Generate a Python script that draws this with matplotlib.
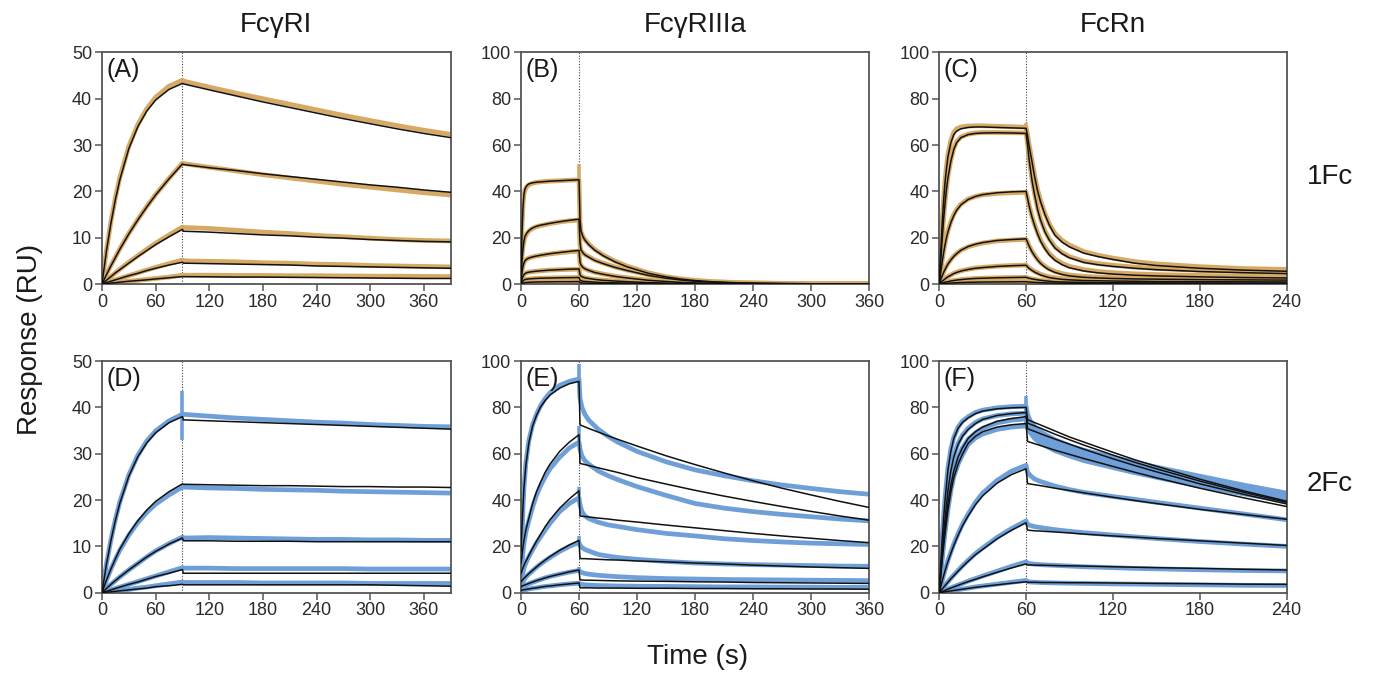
import matplotlib
matplotlib.use("Agg")
import matplotlib.pyplot as plt

plt.rcParams['font.family'] = ['Liberation Sans', 'DejaVu Sans']

ORANGE = '#D6A964'
BLUE = '#6E9FD8'

# ---------------- FcγRI (A: 1Fc, D: 2Fc) ----------------
t_AD = [0, 5, 10, 15, 20, 30, 40, 50, 60, 75, 90,
        91, 120, 150, 180, 210, 240, 270, 300, 330, 360, 390]

A_fit_1 = [0, 7.1, 13.1, 18.2, 22.5, 29.2, 33.9, 37.3, 39.7, 42.0, 43.3,
           43.2, 41.9, 40.6, 39.3, 38.1, 36.9, 35.7, 34.6, 33.5, 32.5, 31.6]
A_dat_1 = [0, 7.3, 13.4, 18.6, 23.0, 29.7, 34.4, 37.8, 40.3, 42.7, 44.0,
           43.8, 42.5, 41.2, 40.0, 38.8, 37.6, 36.4, 35.3, 34.2, 33.2, 32.3]
A_fit_2 = [0, 2.0, 3.9, 5.7, 7.5, 10.8, 13.8, 16.6, 19.2, 22.7, 25.9,
           25.8, 25.1, 24.5, 23.8, 23.2, 22.6, 22.0, 21.4, 20.9, 20.3, 19.8]
A_dat_2 = [0, 2.1, 4.0, 5.8, 7.6, 10.9, 13.9, 16.7, 19.3, 22.8, 26.1,
           26.0, 25.2, 24.4, 23.6, 22.9, 22.2, 21.5, 20.9, 20.3, 19.7, 19.2]
A_fit_3 = [0, 0.8, 1.6, 2.4, 3.1, 4.5, 5.9, 7.2, 8.5, 10.2, 11.8,
           11.4, 11.2, 10.9, 10.6, 10.4, 10.1, 9.9, 9.6, 9.4, 9.2, 9.1]
A_dat_3 = [0, 0.8, 1.6, 2.4, 3.2, 4.7, 6.1, 7.5, 8.8, 10.6, 12.3,
           12.2, 12.0, 11.6, 11.2, 10.9, 10.5, 10.2, 9.9, 9.6, 9.4, 9.3]
A_fit_4 = [0, 0.3, 0.6, 0.9, 1.2, 1.8, 2.3, 2.9, 3.4, 4.1, 4.7,
           4.5, 4.4, 4.3, 4.2, 4.1, 3.9, 3.8, 3.7, 3.6, 3.5, 3.4]
A_dat_4 = [0, 0.3, 0.6, 0.9, 1.2, 1.8, 2.4, 3.0, 3.6, 4.4, 5.2,
           5.0, 4.9, 4.8, 4.6, 4.5, 4.3, 4.2, 4.0, 3.9, 3.8, 3.7]
A_fit_5 = [0, 0.1, 0.2, 0.3, 0.4, 0.6, 0.75, 0.9, 1.1, 1.35, 1.6,
           1.6, 1.55, 1.5, 1.5, 1.45, 1.4, 1.35, 1.3, 1.25, 1.2, 1.2]
A_dat_5 = [0, 0.1, 0.2, 0.3, 0.4, 0.6, 0.8, 1.0, 1.2, 1.5, 1.9,
           1.9, 1.9, 1.85, 1.85, 1.8, 1.8, 1.75, 1.7, 1.7, 1.65, 1.6]

D_fit_1 = [0, 6.1, 11.2, 15.6, 19.3, 25.1, 29.3, 32.3, 34.5, 36.7, 38.0,
           37.3, 37.1, 36.9, 36.7, 36.5, 36.3, 36.1, 35.9, 35.7, 35.5, 35.3]
D_dat_1 = [0, 6.2, 11.4, 15.8, 19.6, 25.4, 29.6, 32.7, 34.9, 37.1, 38.5,
           38.5, 38.1, 37.7, 37.4, 37.1, 36.8, 36.6, 36.3, 36.1, 35.9, 35.8]
D_fit_2 = [0, 2.7, 5.1, 7.3, 9.4, 12.7, 15.5, 17.8, 19.7, 21.8, 23.5,
           23.4, 23.3, 23.2, 23.1, 23.1, 23.0, 22.9, 22.9, 22.8, 22.8, 22.7]
D_dat_2 = [0, 2.7, 5.1, 7.2, 9.2, 12.4, 15.1, 17.3, 19.1, 21.1, 22.8,
           22.8, 22.6, 22.5, 22.3, 22.2, 22.1, 21.9, 21.8, 21.7, 21.6, 21.5]
D_fit_3 = [0, 0.9, 1.8, 2.6, 3.4, 4.9, 6.3, 7.7, 8.9, 10.5, 11.8,
           11.2, 11.2, 11.1, 11.1, 11.1, 11.0, 11.0, 11.0, 11.0, 11.0, 11.0]
D_dat_3 = [0, 0.9, 1.8, 2.6, 3.4, 4.9, 6.3, 7.7, 9.0, 10.6, 12.0,
           11.8, 11.9, 11.8, 11.7, 11.6, 11.5, 11.5, 11.4, 11.4, 11.3, 11.3]
D_fit_4 = [0, 0.3, 0.6, 0.9, 1.2, 1.8, 2.3, 2.9, 3.5, 4.2, 5.0,
           4.2, 4.2, 4.2, 4.2, 4.2, 4.2, 4.2, 4.2, 4.2, 4.2, 4.2]
D_dat_4 = [0, 0.3, 0.6, 0.9, 1.2, 1.8, 2.4, 3.0, 3.6, 4.5, 5.4,
           5.3, 5.3, 5.2, 5.2, 5.2, 5.2, 5.2, 5.1, 5.1, 5.1, 5.1]
D_fit_5 = [0, 0.1, 0.2, 0.3, 0.4, 0.6, 0.8, 1.0, 1.3, 1.5, 1.8,
           1.7, 1.7, 1.7, 1.7, 1.7, 1.7, 1.7, 1.7, 1.6, 1.5, 1.4]
D_dat_5 = [0, 0.1, 0.2, 0.35, 0.5, 0.7, 1.0, 1.2, 1.5, 1.9, 2.3,
           2.2, 2.2, 2.2, 2.1, 2.1, 2.1, 2.1, 2.0, 2.0, 2.0, 2.0]

# ---------------- FcγRIIIa, 1Fc (B) ----------------
t_B = [0, 0.5, 1, 2, 3, 4, 6, 8, 11, 15, 20, 30, 40, 50, 60,
       61, 62, 64, 66, 70, 76, 85, 97, 110, 132, 150, 166, 180, 197, 220, 240, 270, 300, 360]

B_fit_1 = [0, 12, 22, 33, 38.5, 41, 42.5, 43.2, 43.6, 43.9, 44.1, 44.4, 44.6, 44.8, 45.0,
           28, 23, 20.5, 19, 17, 14.7, 12.2, 9.6, 7.4, 4.6, 3.1, 2.1, 1.5, 1.0, 0.6, 0.4, 0.2, 0.1, 0.0]
B_dat_1 = [0, 15, 25, 34, 38.5, 40.5, 42, 42.8, 43.4, 43.8, 44.1, 44.4, 44.6, 44.8, 45.0,
           27, 22.5, 20.5, 19.2, 17.3, 15.0, 12.5, 9.9, 7.7, 4.8, 3.2, 2.2, 1.6, 1.1, 0.7, 0.5, 0.3, 0.2, 0.1]
B_fit_2 = [0, 6, 10, 15, 18.5, 20.5, 22, 23, 24, 24.8, 25.4, 26.2, 26.9, 27.5, 28.0,
           18, 14.7, 13.5, 12.6, 11.6, 10.2, 8.8, 7.2, 5.8, 3.7, 2.5, 1.7, 1.2, 0.8, 0.5, 0.35, 0.2, 0.1, 0.0]
B_dat_2 = [0, 8, 12, 16, 18.5, 20.2, 21.8, 22.8, 23.8, 24.6, 25.2, 26.1, 26.8, 27.3, 27.6,
           17, 14.5, 13.5, 12.7, 11.8, 10.4, 9.0, 7.4, 6.0, 3.9, 2.7, 1.9, 1.3, 0.9, 0.6, 0.4, 0.25, 0.15, 0.05]
B_fit_3 = [0, 3, 5, 7.5, 9, 10, 10.8, 11.2, 11.6, 12.0, 12.4, 13.1, 13.6, 14.1, 14.5,
           9.5, 8.2, 7.2, 6.6, 5.9, 5.0, 4.2, 3.3, 2.6, 1.6, 1.1, 0.7, 0.5, 0.3, 0.2, 0.1, 0.05, 0, 0]
B_dat_3 = [0, 4, 6, 8, 9.2, 10, 10.8, 11.2, 11.6, 12.0, 12.4, 13.0, 13.5, 13.9, 14.2,
           9, 8.0, 7.2, 6.6, 5.9, 5.1, 4.3, 3.4, 2.7, 1.7, 1.2, 0.8, 0.55, 0.35, 0.2, 0.15, 0.1, 0.05, 0]
B_fit_4 = [0, 1.2, 2, 3.3, 4, 4.5, 4.9, 5.1, 5.3, 5.5, 5.7, 6.0, 6.2, 6.4, 6.5,
           4, 3.4, 3.0, 2.7, 2.4, 2.0, 1.6, 1.3, 1.0, 0.6, 0.4, 0.25, 0.15, 0.1, 0.05, 0, 0, 0, 0]
B_dat_4 = [0, 1.5, 2.3, 3.4, 4, 4.5, 4.9, 5.1, 5.3, 5.5, 5.7, 6.0, 6.2, 6.3, 6.4,
           3.8, 3.3, 3.0, 2.7, 2.4, 2.0, 1.7, 1.3, 1.0, 0.6, 0.4, 0.3, 0.2, 0.1, 0.05, 0, 0, 0, 0]
B_fit_5 = [0, 0.4, 0.8, 1.3, 1.7, 1.9, 2.1, 2.2, 2.3, 2.4, 2.5, 2.6, 2.7, 2.75, 2.8,
           1.7, 1.4, 1.2, 1.1, 1.0, 0.8, 0.6, 0.5, 0.4, 0.25, 0.15, 0.1, 0.05, 0, 0, 0, 0, 0, 0]
B_dat_5 = [0, 0.5, 0.9, 1.4, 1.7, 1.9, 2.1, 2.2, 2.3, 2.4, 2.5, 2.6, 2.7, 2.75, 2.8,
           1.6, 1.4, 1.2, 1.1, 1.0, 0.8, 0.6, 0.5, 0.4, 0.25, 0.15, 0.1, 0.05, 0, 0, 0, 0, 0, 0]
B_fit_6 = [0, 0.1, 0.2, 0.4, 0.5, 0.6, 0.7, 0.75, 0.8, 0.85, 0.9, 0.95, 1.0, 1.0, 1.05,
           0.6, 0.5, 0.45, 0.4, 0.35, 0.3, 0.25, 0.2, 0.15, 0.1, 0.05, 0, 0, 0, 0, 0, 0, 0, 0]
B_dat_6 = [0, 0.1, 0.2, 0.4, 0.5, 0.6, 0.7, 0.75, 0.8, 0.85, 0.9, 0.95, 1.0, 1.0, 1.05,
           0.6, 0.5, 0.45, 0.4, 0.35, 0.3, 0.25, 0.2, 0.15, 0.1, 0.05, 0, 0, 0, 0, 0, 0, 0, 0]

# ---------------- FcRn, 1Fc (C) ----------------
t_C = [0, 1, 2, 3, 4, 5, 6, 8, 10, 12, 15, 20, 25, 30, 40, 50, 60,
       61, 62, 64, 66, 68, 70, 73, 76, 80, 85, 90, 100, 110, 120, 135, 150, 180, 210, 240]

C_fit_1 = [0, 14, 26, 36, 44, 50, 55, 61, 64.5, 66, 67, 67.6, 67.8, 67.8, 67.6, 67.4, 67.2,
           64, 60, 53, 46, 40, 35.5, 30, 25.5, 21, 18, 16, 13.3, 11.8, 10.6, 9.0, 8.0, 6.8, 6.0, 5.5]
C_dat_1 = [0, 15, 27, 37, 45, 51, 56, 62, 65.5, 67, 67.8, 68.2, 68.3, 68.3, 68.1, 67.9, 67.7,
           64.5, 60.5, 53.5, 46.5, 40.5, 36, 30.5, 26, 21.8, 18.8, 16.8, 14, 12.4, 11.2, 9.7, 8.7, 7.5, 6.7, 6.3]
C_fit_2 = [0, 10, 19, 28, 35, 41, 46, 53, 58, 61, 63.2, 64.5, 65, 65.2, 65.3, 65.2, 65,
           60, 54, 45, 38, 32, 27.5, 22.5, 19, 15.5, 13, 11.3, 9.3, 8.3, 7.6, 6.8, 6.2, 5.4, 4.9, 4.5]
C_dat_2 = [0, 10.5, 19.5, 28.5, 35.5, 41.5, 46.5, 53.5, 58.5, 61.5, 63.5, 64.7, 65.2, 65.4, 65.4, 65.3, 65.2,
           60.5, 54.5, 45.5, 38.5, 32.5, 28, 23, 19.5, 16, 13.5, 11.8, 9.8, 8.8, 8.1, 7.3, 6.7, 5.9, 5.4, 5.0]
C_fit_3 = [0, 5, 9.5, 13.5, 17, 20, 22.5, 26.5, 29.5, 31.8, 34.2, 36.5, 37.8, 38.6, 39.4, 39.8, 40,
           37, 34, 29, 25, 21.5, 18.5, 15.2, 12.6, 10.2, 8.3, 7.0, 5.6, 4.8, 4.3, 3.8, 3.5, 3.1, 2.8, 2.6]
C_dat_3 = [0, 5.5, 10, 14, 17.5, 20.5, 23, 27, 30, 32.2, 34.5, 36.7, 37.8, 38.5, 39.1, 39.4, 39.6,
           37, 34.2, 29.3, 25.4, 22, 19, 15.8, 13.2, 10.8, 8.9, 7.6, 6.2, 5.4, 4.9, 4.4, 4.1, 3.7, 3.4, 3.2]
C_fit_4 = [0, 1.8, 3.5, 5, 6.3, 7.5, 8.6, 10.4, 11.9, 13.1, 14.6, 16.2, 17.2, 17.9, 18.8, 19.2, 19.5,
           18, 16.5, 14, 12, 10.3, 8.9, 7.3, 6.1, 5.0, 4.1, 3.5, 2.9, 2.6, 2.4, 2.2, 2.1, 1.9, 1.8, 1.7]
C_dat_4 = [0, 2.0, 3.7, 5.2, 6.5, 7.7, 8.8, 10.6, 12.0, 13.2, 14.6, 16.1, 17.0, 17.7, 18.6, 19.0, 19.3,
           18, 16.6, 14.2, 12.3, 10.6, 9.2, 7.7, 6.5, 5.4, 4.5, 3.9, 3.3, 3.0, 2.8, 2.6, 2.5, 2.3, 2.2, 2.1]
C_fit_5 = [0, 0.6, 1.2, 1.7, 2.2, 2.7, 3.1, 3.8, 4.5, 5.0, 5.6, 6.3, 6.8, 7.1, 7.6, 7.9, 8.1,
           7.4, 6.8, 5.9, 5.1, 4.5, 3.9, 3.3, 2.8, 2.4, 2.0, 1.8, 1.5, 1.4, 1.3, 1.2, 1.1, 1.0, 0.95, 0.9]
C_dat_5 = [0, 0.7, 1.3, 1.8, 2.3, 2.8, 3.2, 3.9, 4.6, 5.1, 5.7, 6.4, 6.9, 7.2, 7.7, 8.0, 8.2,
           7.6, 7.0, 6.1, 5.4, 4.8, 4.2, 3.6, 3.1, 2.7, 2.3, 2.1, 1.8, 1.7, 1.6, 1.5, 1.4, 1.3, 1.25, 1.2]
C_fit_6 = [0, 0.2, 0.4, 0.6, 0.8, 0.9, 1.0, 1.3, 1.5, 1.7, 1.9, 2.2, 2.4, 2.5, 2.7, 2.8, 2.9,
           2.7, 2.5, 2.2, 2.0, 1.8, 1.6, 1.4, 1.2, 1.0, 0.9, 0.8, 0.7, 0.6, 0.55, 0.5, 0.5, 0.45, 0.4, 0.4]
C_dat_6 = [0, 0.2, 0.4, 0.6, 0.8, 0.9, 1.0, 1.3, 1.5, 1.7, 1.9, 2.2, 2.4, 2.5, 2.7, 2.8, 2.9,
           2.7, 2.5, 2.2, 2.0, 1.8, 1.6, 1.4, 1.2, 1.0, 0.9, 0.8, 0.7, 0.6, 0.55, 0.5, 0.5, 0.45, 0.4, 0.4]
C_fit_7 = [0, 0.05, 0.1, 0.15, 0.2, 0.25, 0.3, 0.4, 0.5, 0.55, 0.65, 0.75, 0.8, 0.85, 0.9, 0.95, 1.0,
           0.9, 0.85, 0.8, 0.7, 0.65, 0.6, 0.5, 0.45, 0.4, 0.35, 0.3, 0.25, 0.2, 0.2, 0.2, 0.15, 0.15, 0.1, 0.1]
C_dat_7 = C_fit_7

# ---------------- FcγRIIIa, 2Fc (E) ----------------
t_E = [0, 1, 2, 3, 5, 8, 12, 16, 20, 25, 30, 40, 50, 60,
       61, 63, 66, 70, 80, 90, 100, 120, 150, 180, 210, 240, 270, 300, 330, 360]

E_fit_1 = [18, 28, 37, 45, 55, 64.5, 72, 76.5, 80, 83, 85.3, 88.3, 90.2, 91.2,
           72.5, 72.1, 71.6, 70.9, 69.3, 67.7, 66.2, 63.3, 59.1, 55.3, 51.7, 48.3, 45.1, 42.2, 39.4, 36.8]
E_dat_1 = [0, 22, 36, 45, 56, 65.5, 72.5, 77, 80.5, 83.8, 86.3, 89.5, 91.2, 92.3,
           84, 80, 77, 74.5, 70.5, 67.5, 65, 61, 56.5, 53, 50.5, 48.3, 46.5, 45, 43.6, 42.5]
E_fit_2 = [12.7, 16, 19.5, 22.5, 27, 32, 38.5, 43.5, 47.5, 52, 55.5, 61, 65, 68.2,
           55.8, 55.6, 55.3, 54.9, 53.9, 52.9, 51.9, 49.7, 46.9, 44.2, 41.7, 39.4, 37.2, 35.1, 33.1, 31.3]
E_dat_2 = [0, 12, 17.5, 21, 26, 31, 37, 42, 46, 50, 53.5, 58.5, 62.5, 65,
           62, 59, 57, 55.5, 52.5, 50.5, 48.8, 45.8, 42, 38.5, 36.5, 35, 33.8, 32.8, 31.8, 31]
E_fit_3 = [8.3, 9.5, 10.7, 11.8, 13.5, 16, 19.2, 22.2, 25, 28.5, 31.5, 36.5, 40.5, 44,
           33.1, 33.0, 32.9, 32.7, 32.2, 31.8, 31.3, 30.5, 29.2, 28.0, 26.8, 25.6, 24.5, 23.5, 22.5, 21.6]
E_dat_3 = [0, 6, 8.5, 10.5, 12.8, 15.5, 18.5, 21.5, 24, 27, 30, 35, 38.5, 41,
           38, 35, 33.2, 32, 30.4, 29.3, 28.6, 27.2, 25.6, 24.5, 23.3, 22.5, 21.9, 21.4, 21.1, 20.8]
E_fit_4 = [4.7, 5.2, 5.7, 6.2, 7.0, 8.2, 9.7, 11.1, 12.5, 14.1, 15.6, 18.3, 20.6, 22.6,
           14.8, 14.7, 14.7, 14.6, 14.4, 14.2, 14.1, 13.7, 13.3, 12.8, 12.4, 11.9, 11.5, 11.1, 10.8, 10.5]
E_dat_4 = [0, 3, 4.5, 5.5, 6.7, 8, 9.5, 11, 12.3, 13.8, 15.2, 17.8, 20, 21.7,
           20.5, 19.5, 18.7, 18.0, 16.5, 15.8, 15.2, 14.4, 13.5, 12.8, 12.4, 12.1, 11.9, 11.7, 11.5, 11.4]
E_fit_5 = [2.6, 2.8, 3.0, 3.2, 3.5, 4.0, 4.6, 5.2, 5.7, 6.4, 7.0, 8.0, 9.0, 9.8,
           5.5, 5.5, 5.4, 5.4, 5.3, 5.2, 5.1, 5.0, 4.9, 4.7, 4.6, 4.4, 4.3, 4.2, 4.1, 4.0]
E_dat_5 = [0, 1.5, 2.2, 2.7, 3.2, 3.8, 4.5, 5.1, 5.7, 6.4, 7.0, 8.0, 8.9, 9.6,
           9.2, 8.7, 8.3, 8.0, 7.5, 7.2, 6.9, 6.5, 6.1, 5.9, 5.7, 5.6, 5.5, 5.4, 5.3, 5.2]
E_fit_6 = [1.0, 1.1, 1.2, 1.3, 1.4, 1.6, 1.9, 2.1, 2.4, 2.7, 2.9, 3.4, 3.8, 4.2,
           2.1, 2.1, 2.1, 2.1, 2.0, 2.0, 2.0, 1.9, 1.9, 1.8, 1.8, 1.7, 1.7, 1.6, 1.6, 1.5]
E_dat_6 = [0, 0.6, 0.9, 1.1, 1.3, 1.6, 1.9, 2.1, 2.4, 2.7, 2.9, 3.4, 3.8, 4.1,
           3.8, 3.6, 3.4, 3.3, 3.1, 3.0, 2.9, 2.8, 2.7, 2.6, 2.5, 2.5, 2.4, 2.4, 2.3, 2.3]

# ---------------- FcRn, 2Fc (F) ----------------
t_F = [0, 1, 2, 3, 4, 6, 8, 10, 13, 16, 20, 25, 30, 40, 50, 60,
       61, 63, 66, 70, 80, 90, 100, 120, 135, 150, 180, 210, 240]

F_fit_1 = [0, 12, 23, 32, 40, 53, 61, 66.5, 71, 73.5, 75.5, 77.3, 78.4, 79.4, 79.8, 80,
           74.7, 74.2, 73.4, 72.4, 69.8, 67.2, 65.0, 60.6, 57.4, 54.6, 49.0, 44.0, 39.5]
F_dat_1 = [0, 13, 24, 33, 41, 54, 62, 67, 71.5, 74, 76, 77.8, 78.8, 79.8, 80.3, 80.5,
           77, 74, 71.5, 69.5, 66, 63.5, 61.5, 58.5, 56.3, 54.2, 50.3, 46.5, 43]
F_fit_2 = [0, 9, 17.5, 25, 32, 44, 52.5, 58.5, 64, 67.5, 70.5, 73, 74.8, 76.5, 77.3, 77.8,
           73.2, 72.7, 72.0, 71.0, 68.4, 66.0, 63.7, 59.4, 56.3, 53.5, 48.2, 43.4, 39.0]
F_dat_2 = [0, 10, 18.5, 26, 33, 45, 53.5, 59, 64.5, 68, 71, 73.5, 75, 76.5, 77.2, 77.5,
           75, 72.5, 70, 68, 64.5, 62, 60, 57, 54.8, 52.7, 48.7, 45.2, 42]
F_fit_3 = [0, 8, 15.5, 22, 28, 38.5, 46.5, 52.5, 58.5, 62.5, 66.6, 69.5, 71.5, 74, 75.2, 76,
           70.8, 70.3, 69.6, 68.6, 66.3, 64.1, 61.9, 57.8, 54.9, 52.2, 47.0, 42.5, 38.3]
F_dat_3 = [0, 8.5, 16, 22.5, 28.5, 39, 47, 53, 58.5, 62.5, 66.3, 69, 71, 73.3, 74.5, 75,
           73, 71, 68.5, 66.5, 63, 60.5, 58.5, 55.5, 53.3, 51.2, 47.3, 43.8, 40.7]
F_fit_4 = [0, 7, 14, 20, 25.5, 35.5, 43.5, 49.5, 55.5, 59.8, 64.5, 67.5, 69.5, 71.5, 72.5, 73,
           65.3, 64.9, 64.3, 63.5, 61.5, 59.7, 57.9, 54.5, 52.0, 49.6, 45.1, 41.0, 37.2]
F_dat_4 = [0, 7.5, 14.5, 20.5, 26, 36, 44, 50, 55.5, 59.5, 64, 66.8, 68.5, 70.5, 71.5, 72,
           71, 69, 66.5, 64.5, 61.3, 59, 57, 54, 51.8, 49.8, 46, 42.7, 39.5]
F_fit_5 = [0, 2.5, 5, 7.3, 9.5, 13.5, 17, 20.3, 24.8, 28.8, 33.2, 38, 41.8, 47.3, 51, 53.5,
           47.1, 46.9, 46.6, 46.2, 45.1, 44.1, 43.1, 41.2, 39.8, 38.5, 36.0, 33.8, 31.7]
F_dat_5 = [0, 2.5, 5, 7.5, 9.8, 14, 17.5, 21, 25.5, 29.5, 34, 39, 43, 48.5, 52.5, 55,
           52, 50.5, 49, 48, 46, 44.5, 43.3, 41.5, 40.3, 39, 36.5, 34, 31.5]
F_fit_6 = [0, 0.78, 1.55, 2.3, 3.1, 4.5, 6.0, 7.3, 9.3, 11.2, 13.6, 16.4, 18.7, 23.3, 27.0, 30.2,
           27.0, 26.9, 26.7, 26.6, 26.2, 25.8, 25.3, 24.5, 24.0, 23.4, 22.4, 21.4, 20.4]
F_dat_6 = [0, 0.8, 1.6, 2.4, 3.2, 4.7, 6.2, 7.6, 9.6, 11.6, 14, 16.9, 19.3, 23.9, 27.7, 31,
           29.5, 29, 28.5, 28.1, 27.2, 26.5, 25.9, 24.9, 24.1, 23.4, 22.1, 21, 20]
F_fit_7 = [0, 0.26, 0.51, 0.77, 1.02, 1.52, 2.0, 2.48, 3.2, 3.9, 4.8, 5.8, 6.85, 8.8, 10.7, 12.4,
           12.0, 12.0, 11.9, 11.9, 11.7, 11.6, 11.5, 11.2, 11.0, 10.8, 10.5, 10.1, 9.8]
F_dat_7 = [0, 0.3, 0.55, 0.8, 1.1, 1.6, 2.1, 2.6, 3.3, 4.0, 5.0, 6.1, 7.2, 9.3, 11.4, 13.3,
           12.8, 12.5, 12.3, 12.1, 11.8, 11.5, 11.2, 10.8, 10.5, 10.3, 9.9, 9.6, 9.4]
F_fit_8 = [0, 0.1, 0.2, 0.3, 0.4, 0.58, 0.77, 0.95, 1.23, 1.5, 1.85, 2.3, 2.7, 3.4, 4.1, 4.7,
           4.5, 4.5, 4.5, 4.4, 4.4, 4.3, 4.3, 4.2, 4.1, 4.0, 3.9, 3.7, 3.6]
F_dat_8 = [0, 0.1, 0.2, 0.3, 0.4, 0.6, 0.8, 1.0, 1.3, 1.6, 2.0, 2.5, 2.9, 3.7, 4.5, 5.3,
           4.8, 4.6, 4.5, 4.4, 4.2, 4.1, 4.0, 3.8, 3.7, 3.6, 3.4, 3.2, 3.1]

# Injection-end artefacts in the sensorgrams: (time, low, high)
B_spikes = [(60, 44, 52)]
C_spikes = [(60, 66, 69.5)]
D_spikes = [(90, 33, 43.5)]
E_spikes = [(60, 88, 98.5), (60, 64, 72), (60, 40, 45.5), (60, 21, 24.5), (60, 9.5, 11)]
F_spikes = [(60, 72, 85)]

col_titles = ['FcγRI', 'FcγRIIIa', 'FcRn']
row_labels = ['1Fc', '2Fc']

panels = [
    dict(label='(A)', t=t_AD, dat=[A_dat_1, A_dat_2, A_dat_3, A_dat_4, A_dat_5],
         fit=[A_fit_1, A_fit_2, A_fit_3, A_fit_4, A_fit_5], color=ORANGE, spikes=[],
         t_end=90, xlim=390, xticks=range(0, 361, 60), ymax=50, ystep=10),
    dict(label='(B)', t=t_B, dat=[B_dat_1, B_dat_2, B_dat_3, B_dat_4, B_dat_5, B_dat_6],
         fit=[B_fit_1, B_fit_2, B_fit_3, B_fit_4, B_fit_5, B_fit_6], color=ORANGE, spikes=B_spikes,
         t_end=60, xlim=360, xticks=range(0, 361, 60), ymax=100, ystep=20),
    dict(label='(C)', t=t_C, dat=[C_dat_1, C_dat_2, C_dat_3, C_dat_4, C_dat_5, C_dat_6, C_dat_7],
         fit=[C_fit_1, C_fit_2, C_fit_3, C_fit_4, C_fit_5, C_fit_6, C_fit_7], color=ORANGE, spikes=C_spikes,
         t_end=60, xlim=240, xticks=range(0, 241, 60), ymax=100, ystep=20),
    dict(label='(D)', t=t_AD, dat=[D_dat_1, D_dat_2, D_dat_3, D_dat_4, D_dat_5],
         fit=[D_fit_1, D_fit_2, D_fit_3, D_fit_4, D_fit_5], color=BLUE, spikes=D_spikes,
         t_end=90, xlim=390, xticks=range(0, 361, 60), ymax=50, ystep=10),
    dict(label='(E)', t=t_E, dat=[E_dat_1, E_dat_2, E_dat_3, E_dat_4, E_dat_5, E_dat_6],
         fit=[E_fit_1, E_fit_2, E_fit_3, E_fit_4, E_fit_5, E_fit_6], color=BLUE, spikes=E_spikes,
         t_end=60, xlim=360, xticks=range(0, 361, 60), ymax=100, ystep=20),
    dict(label='(F)', t=t_F, dat=[F_dat_1, F_dat_2, F_dat_3, F_dat_4, F_dat_5, F_dat_6, F_dat_7, F_dat_8],
         fit=[F_fit_1, F_fit_2, F_fit_3, F_fit_4, F_fit_5, F_fit_6, F_fit_7, F_fit_8], color=BLUE,
         spikes=F_spikes, t_end=60, xlim=240, xticks=range(0, 241, 60), ymax=100, ystep=20),
]

fig = plt.figure(figsize=(13.74, 6.79), dpi=100)

lefts = [0.0742, 0.3792, 0.6836]
widths = [0.2538, 0.2533, 0.2528]
bottoms = [0.5817, 0.1271]
height = 0.3412

SPINE = '#555555'

for i, p in enumerate(panels):
    r, c = divmod(i, 3)
    ax = fig.add_axes([lefts[c], bottoms[r], widths[c], height])
    ax.axvline(p['t_end'], color='#444444', lw=0.8, ls=(0, (1, 1.5)), zorder=1)
    for y in p['dat']:
        ax.plot(p['t'], y, color=p['color'], lw=3.4, solid_capstyle='butt',
                solid_joinstyle='round', zorder=2)
    for (ts, lo, hi) in p['spikes']:
        ax.vlines(ts, lo, hi, color=p['color'], lw=2.6, zorder=2)
    for y in p['fit']:
        ax.plot(p['t'], y, color='#111111', lw=1.1, zorder=3)
    ax.set_xlim(0, p['xlim'])
    ax.set_ylim(0, p['ymax'])
    ax.set_xticks(list(p['xticks']))
    ax.set_yticks(list(range(0, p['ymax'] + 1, p['ystep'])))
    for s in ax.spines.values():
        s.set_color(SPINE)
        s.set_linewidth(1.3)
    ax.tick_params(direction='out', length=5, width=1.1, color=SPINE,
                   labelsize=13, labelcolor='#2a2a2a', pad=2)
    ax.text(0.012, 0.975, p['label'], transform=ax.transAxes, ha='left', va='top',
            fontsize=18, color='#1a1a1a')
    if r == 0:
        fig.text(lefts[c] + widths[c] / 2, 0.963, col_titles[c], ha='center', va='center',
                 fontsize=20, color='#1a1a1a')

fig.text(0.968, 0.740, row_labels[0], ha='center', va='center', fontsize=20, color='#1a1a1a')
fig.text(0.968, 0.287, row_labels[1], ha='center', va='center', fontsize=20, color='#1a1a1a')
fig.text(0.022, 0.50, 'Response (RU)', ha='center', va='center', rotation=90,
         fontsize=20, color='#1a1a1a')
fig.text(0.508, 0.032, 'Time (s)', ha='center', va='center', fontsize=20, color='#1a1a1a')

fig.savefig('out.png', dpi=100)
